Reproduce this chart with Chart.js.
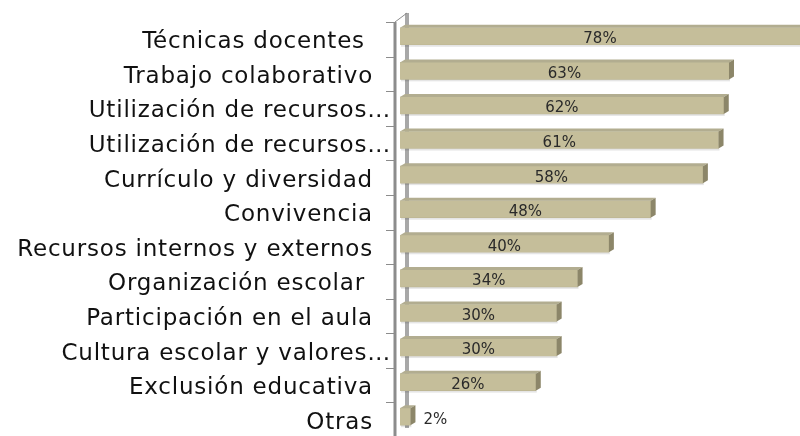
<!DOCTYPE html>
<html>
<head>
<meta charset="utf-8">
<script src="https://cdn.jsdelivr.net/npm/chart.js@4/dist/chart.umd.min.js"></script>
<style>
  html, body { margin: 0; padding: 0; background: #fff; }
  #wrap { width: 800px; height: 436px; }
</style>
</head>
<body>
<div id="wrap"><canvas id="myChart"></canvas></div>
<script>
// categorias y valores
const categorias = [
  'Técnicas docentes ',
  'Trabajo colaborativo',
  'Utilización de recursos…',
  'Utilización de recursos…',
  'Currículo y diversidad',
  'Convivencia',
  'Recursos internos y externos',
  'Organización escolar ',
  'Participación en el aula',
  'Cultura escolar y valores…',
  'Exclusión educativa',
  'Otras'
];
const porcentajes = [78, 63, 62, 61, 58, 48, 40, 34, 30, 30, 26, 2];
const etiquetas = porcentajes.map(v => v + '%');

const colorBarra = '#c5be9a';
const colorLado = '#8c8669';
const colorTapa = '#b2ad90';
const fondo = 3;   // profundidad del efecto 3d
const ancho = 5;

const efecto3d = {
  id: 'efecto3d',
  beforeDatasetsDraw(chart) {
    const { ctx, chartArea: a } = chart;
    ctx.save();
    // pared del fondo
    ctx.strokeStyle = '#a8a8a8';
    ctx.lineWidth = 4;
    ctx.beginPath();
    ctx.moveTo(a.left + 7, a.top - 6);
    ctx.lineTo(a.left + 7, a.bottom - 6);
    ctx.stroke();
    ctx.restore();
  },
  afterDatasetsDraw(chart) {
    const { ctx, chartArea: a, scales } = chart;
    const y = scales.y;
    const meta = chart.getDatasetMeta(0);
    ctx.save();

    meta.data.forEach((bar, i) => {
      const top = bar.y - bar.height / 2;
      const bottom = bar.y + bar.height / 2;
      const right = Math.min(bar.x, a.right);
      // sombra inferior
      ctx.fillStyle = 'rgba(0,0,0,0.10)';
      ctx.fillRect(bar.base + 1, bottom, right - bar.base, 2);
      // tapa superior
      ctx.fillStyle = colorTapa;
      ctx.beginPath();
      ctx.moveTo(bar.base, top);
      ctx.lineTo(bar.base + ancho, top - fondo);
      ctx.lineTo(right + ancho, top - fondo);
      ctx.lineTo(right, top);
      ctx.closePath();
      ctx.fill();
      // lado derecho
      if (bar.x <= a.right) {
        ctx.fillStyle = colorLado;
        ctx.beginPath();
        ctx.moveTo(bar.x, top);
        ctx.lineTo(bar.x + ancho, top - fondo);
        ctx.lineTo(bar.x + ancho, bottom - fondo);
        ctx.lineTo(bar.x, bottom);
        ctx.closePath();
        ctx.fill();
      }
      // etiqueta de valor
      ctx.font = '15px "DejaVu Sans"';
      ctx.fillStyle = '#2a2a2a';
      ctx.textBaseline = 'middle';
      const txt = etiquetas[i];
      const w = ctx.measureText(txt).width;
      if (right - bar.base > w + 8) {
        ctx.textAlign = 'center';
        ctx.fillText(txt, (bar.base + right) / 2, bar.y + 3);
      } else {
        ctx.textAlign = 'left';
        ctx.fillText(txt, bar.x + ancho + 8, bar.y + 3);
      }
    });

    // pared frontal con marcas
    const paso = (y.getPixelForValue(1) - y.getPixelForValue(0));
    ctx.strokeStyle = '#8c8c8c';
    ctx.lineWidth = 3;
    ctx.beginPath();
    ctx.moveTo(a.left - 5, a.top + 3);
    ctx.lineTo(a.left - 5, a.bottom + 4);
    ctx.stroke();
    ctx.lineWidth = 1;
    ctx.strokeStyle = '#8c8c8c';
    ctx.beginPath();
    ctx.moveTo(a.left - 5, a.top + 3);
    ctx.lineTo(a.left + 7, a.top - 6);
    ctx.stroke();
    ctx.beginPath();
    for (let i = 0; i <= categorias.length; i++) {
      const py = Math.round(y.getPixelForValue(i) - paso / 2 + 3) + 0.5;
      ctx.moveTo(a.left - 14, py);
      ctx.lineTo(a.left - 5, py);
    }
    ctx.stroke();

    // etiquetas de categoria
    ctx.font = '23px "DejaVu Sans"';
    ctx.letterSpacing = '0.8px';
    ctx.fillStyle = '#111';
    ctx.textAlign = 'right';
    ctx.textBaseline = 'middle';
    categorias.forEach((c, i) => {
      const py = y.getPixelForValue(i) + 6;
      const px = c.endsWith('…') ? a.left - 9 : a.left - 27;
      ctx.fillText(c, px, py);
    });
    ctx.restore();
  }
};

new Chart(document.getElementById('myChart'), {
  type: 'bar',
  data: {
    labels: categorias,
    datasets: [{
      data: porcentajes,
      backgroundColor: colorBarra,
      borderWidth: 0,
      barThickness: 17
    }]
  },
  options: {
    indexAxis: 'y',
    responsive: true,
    maintainAspectRatio: false,
    animation: false,
    layout: { padding: { top: 19, bottom: 2, left: 0, right: 0 } },
    plugins: { legend: { display: false }, tooltip: { enabled: false } },
    scales: {
      x: { min: 0, max: 76.6, display: false },
      y: {
        grid: { display: false },
        border: { display: false },
        ticks: { display: false },
        afterFit(s) { s.width = 400; }
      }
    }
  },
  plugins: [efecto3d]
});
</script>
</body>
</html>
